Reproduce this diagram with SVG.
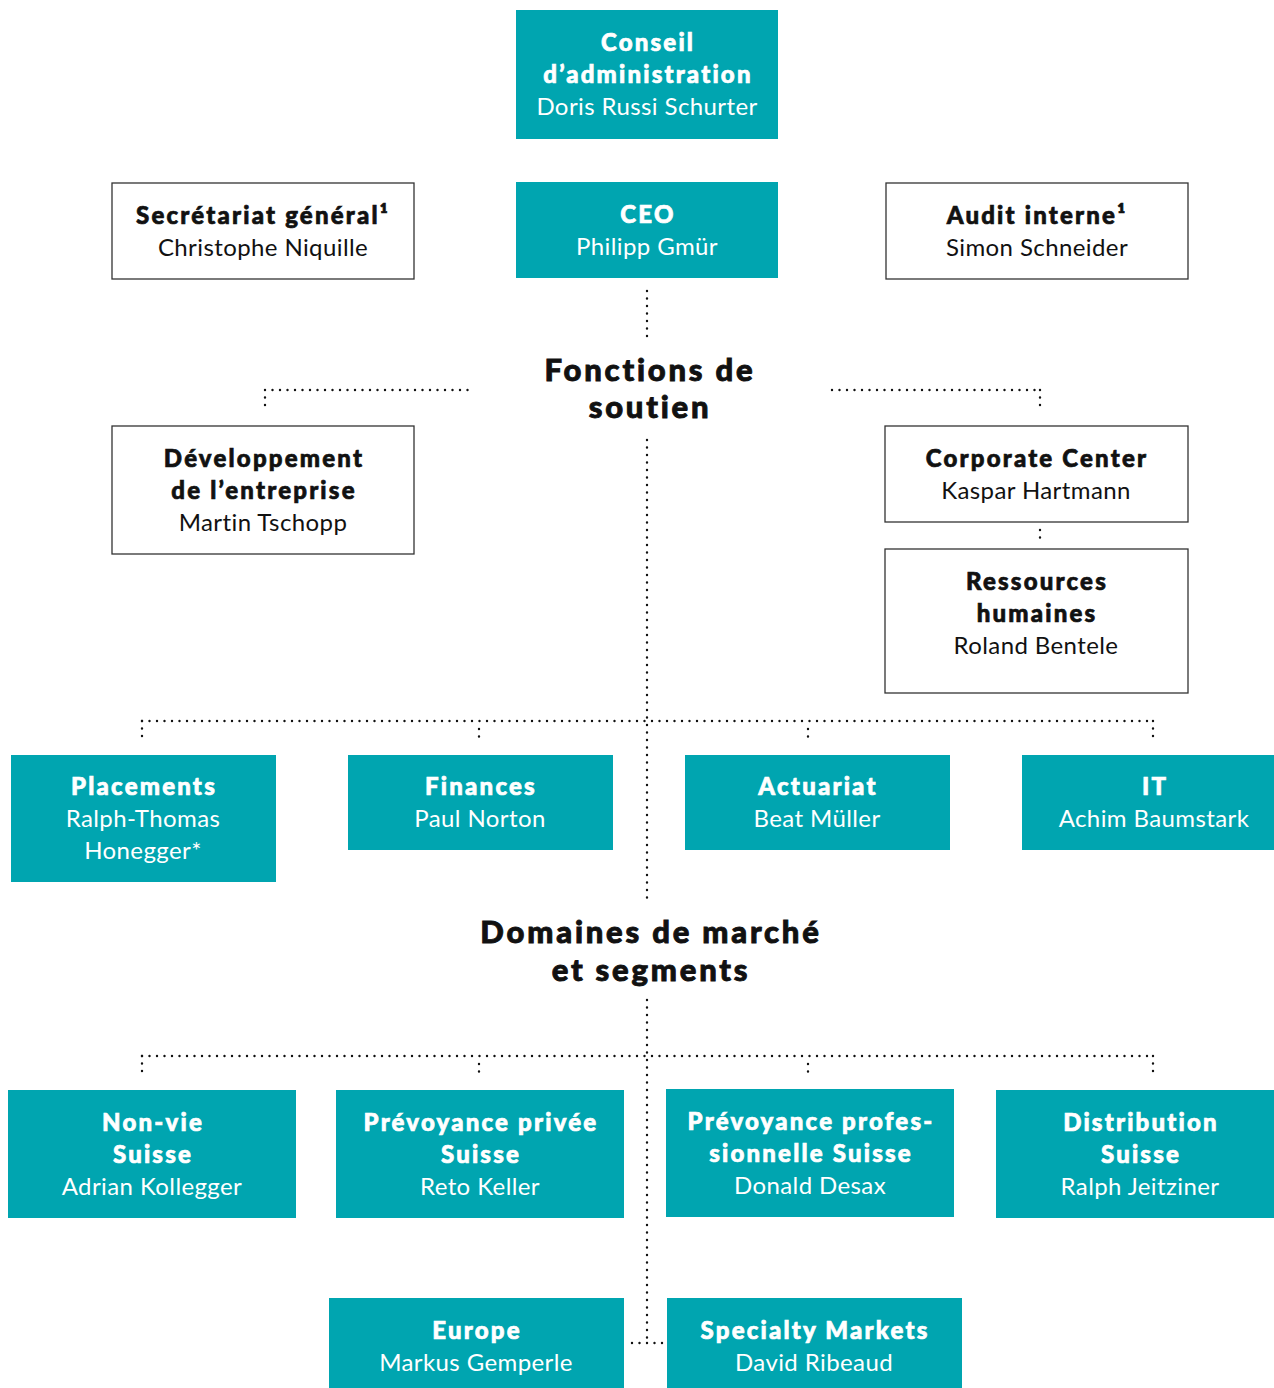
<svg xmlns="http://www.w3.org/2000/svg" width="1274" height="1388" viewBox="0 0 1274 1388">
<style>
.t{fill:#00a5b0}
.w{fill:#ffffff;stroke:#333333;stroke-width:1.3}
text{font-family:"Lato","Noto Sans","Liberation Sans",sans-serif;text-anchor:middle;font-size:24px}
.b{font-weight:900;letter-spacing:2.2px;stroke-width:0.7px}
.r{font-weight:400;letter-spacing:0.4px}
.tw{fill:#ffffff}
.b.tw{stroke:#ffffff}
.tk{fill:#111111}
.b.tk{stroke:#111111}
.h{font-size:31px;font-weight:900;fill:#111111;stroke:#111111;stroke-width:0.9px;letter-spacing:2.8px}
.d{stroke:#111111;stroke-width:2.4;stroke-linecap:round;stroke-dasharray:0 7.5;fill:none}
</style>
<rect width="1274" height="1388" fill="#ffffff"/>
<g id="connectors">
<path class="d" d="M647 291V340"/>
<path class="d" d="M647 440V900"/>
<path class="d" d="M647 1000V1343"/>
<path class="d" d="M265 390H470M265 390V410"/>
<path class="d" d="M832 390H1040M1040 390V410"/>
<path class="d" d="M1040 530V540"/>
<path class="d" d="M142 721H1153"/>
<path class="d" d="M142 721V741M479 729V741M808 729V741M1153 721V741"/>
<path class="d" d="M142 1056H1153"/>
<path class="d" d="M142 1056V1076M479 1064V1076M808 1064V1076M1153 1056V1076"/>
<path class="d" d="M632 1343H665"/>
</g>
<g id="conseil"><rect class="t" x="516" y="10" width="262" height="129"/>
<text class="b tw" x="648" y="51">Conseil</text><text class="b tw" x="648" y="83">d’administration</text><text class="r tw" x="647" y="115">Doris Russi Schurter</text></g>
<g id="secretariat"><rect class="w" x="112" y="183" width="302" height="96"/>
<text class="b tk" x="263" y="224">Secrétariat général¹</text><text class="r tk" x="263" y="256">Christophe Niquille</text></g>
<g id="ceo"><rect class="t" x="516" y="182" width="262" height="96"/>
<text class="b tw" x="648" y="223">CEO</text><text class="r tw" x="647" y="255">Philipp Gmür</text></g>
<g id="audit"><rect class="w" x="886" y="183" width="302" height="96"/>
<text class="b tk" x="1037" y="224">Audit interne¹</text><text class="r tk" x="1037" y="256">Simon Schneider</text></g>
<g id="fonctions"><text class="h" x="650" y="381">Fonctions de</text><text class="h" x="650" y="418">soutien</text></g>
<g id="developpement"><rect class="w" x="112" y="426" width="302" height="128"/>
<text class="b tk" x="264" y="467">Développement</text><text class="b tk" x="264" y="499">de l’entreprise</text><text class="r tk" x="263" y="531">Martin Tschopp</text></g>
<g id="corporate"><rect class="w" x="885" y="426" width="303" height="96"/>
<text class="b tk" x="1037" y="467">Corporate Center</text><text class="r tk" x="1036" y="499">Kaspar Hartmann</text></g>
<g id="rh"><rect class="w" x="885" y="549" width="303" height="144"/>
<text class="b tk" x="1037" y="590">Ressources</text><text class="b tk" x="1037" y="622">humaines</text><text class="r tk" x="1036" y="654">Roland Bentele</text></g>
<g id="placements"><rect class="t" x="11" y="755" width="265" height="127"/>
<text class="b tw" x="144" y="795">Placements</text><text class="r tw" x="143" y="827">Ralph-Thomas</text><text class="r tw" x="143" y="859">Honegger*</text></g>
<g id="finances"><rect class="t" x="348" y="755" width="265" height="95"/>
<text class="b tw" x="481" y="795">Finances</text><text class="r tw" x="480" y="827">Paul Norton</text></g>
<g id="actuariat"><rect class="t" x="685" y="755" width="265" height="95"/>
<text class="b tw" x="818" y="795">Actuariat</text><text class="r tw" x="817" y="827">Beat Müller</text></g>
<g id="it"><rect class="t" x="1022" y="755" width="252" height="95"/>
<text class="b tw" x="1155" y="795">IT</text><text class="r tw" x="1154" y="827">Achim Baumstark</text></g>
<g id="domaines"><text class="h" x="651" y="943">Domaines de marché</text><text class="h" x="651" y="981">et segments</text></g>
<g id="nonvie"><rect class="t" x="8" y="1090" width="288" height="128"/>
<text class="b tw" x="153" y="1131">Non-vie</text><text class="b tw" x="153" y="1163">Suisse</text><text class="r tw" x="152" y="1195">Adrian Kollegger</text></g>
<g id="prevprivee"><rect class="t" x="336" y="1090" width="288" height="128"/>
<text class="b tw" x="481" y="1131">Prévoyance privée</text><text class="b tw" x="481" y="1163">Suisse</text><text class="r tw" x="480" y="1195">Reto Keller</text></g>
<g id="prevprof"><rect class="t" x="666" y="1089" width="288" height="128"/>
<text class="b tw" x="811" y="1130">Prévoyance profes-</text><text class="b tw" x="811" y="1162">sionnelle Suisse</text><text class="r tw" x="810" y="1194">Donald Desax</text></g>
<g id="distribution"><rect class="t" x="996" y="1090" width="278" height="128"/>
<text class="b tw" x="1141" y="1131">Distribution</text><text class="b tw" x="1141" y="1163">Suisse</text><text class="r tw" x="1140" y="1195">Ralph Jeitziner</text></g>
<g id="europe"><rect class="t" x="329" y="1298" width="295" height="90"/>
<text class="b tw" x="477" y="1339">Europe</text><text class="r tw" x="476" y="1371">Markus Gemperle</text></g>
<g id="specialty"><rect class="t" x="667" y="1298" width="295" height="90"/>
<text class="b tw" x="815" y="1339">Specialty Markets</text><text class="r tw" x="814" y="1371">David Ribeaud</text></g>
</svg>
